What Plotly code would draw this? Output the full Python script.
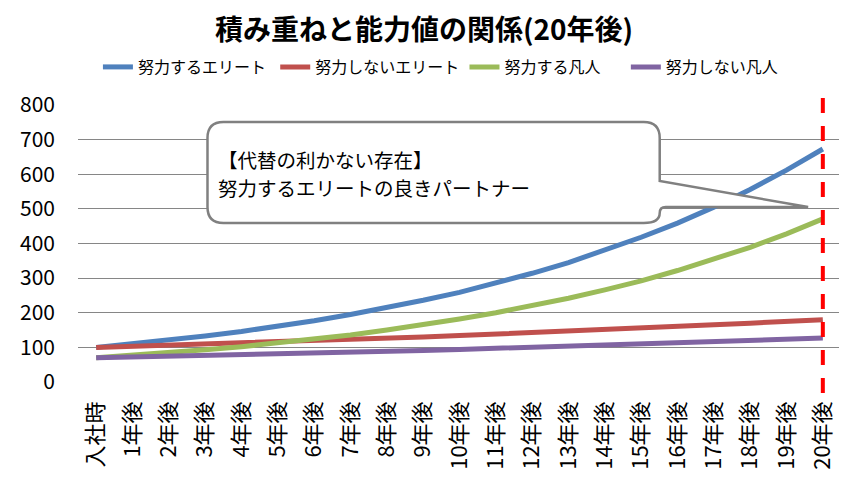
import plotly.graph_objects as go

categories = ["入社時"] + [f"{i}年後" for i in range(1, 21)]

elite_effort = [100, 110, 121, 133, 146, 161, 177, 195, 214, 236, 259, 285, 314, 345, 380, 418, 459, 505, 556, 612, 673]
elite_lazy = [100, 103, 106, 109, 113, 116, 119, 123, 127, 130, 134, 138, 143, 147, 151, 156, 160, 165, 170, 175, 180]
common_effort = [70, 77, 85, 93, 102, 113, 124, 136, 150, 165, 182, 200, 220, 242, 266, 292, 322, 354, 389, 428, 471]
common_lazy = [70, 72, 74, 76, 79, 81, 84, 86, 89, 91, 94, 97, 100, 103, 106, 109, 112, 116, 119, 122, 127]

series_names = ["努力するエリート", "努力しないエリート", "努力する凡人", "努力しない凡人"]
series_values = [elite_effort, elite_lazy, common_effort, common_lazy]
series_colors = ["#4F81BD", "#C0504D", "#9BBB59", "#8064A2"]

y_ticks = [0, 100, 200, 300, 400, 500, 600, 700, 800]
title_text = "積み重ねと能力値の関係(20年後)"
callout_lines = ["【代替の利かない存在】", "努力するエリートの良きパートナー"]
marker_category = "20年後"

FONT = "Noto Sans CJK JP"
W, H = 847, 484
OFF = 8  # page body margin offset
# target screen positions of plot area
SX0, SX1, SY0, SY1 = 75, 841, 105, 382
L = SX0 - OFF
T = SY0 - OFF
R = W - (SX1 - OFF)
B = H - (SY1 - OFF)
PW = W - L - R
PH = H - T - B


def px(x):
    return (x - SX0) / PW


def py(y):
    return (SY1 - y) / PH


legend_starts = [102, 280, 470, 632]
legend_keys = ["legend", "legend2", "legend3", "legend4"]

fig = go.Figure()
for name, vals, col, lk in zip(series_names, series_values, series_colors, legend_keys):
    fig.add_trace(go.Scatter(x=categories, y=vals, name=name, mode="lines", legend=lk,
                             line=dict(color=col, width=5)))

# red dashed vertical marker
fig.add_shape(type="line", xref="x", yref="paper",
              x0=categories.index(marker_category), x1=categories.index(marker_category),
              y0=py(98), y1=py(394),
              line=dict(color="#FF0000", width=4, dash="15px,13px"))

# callout box with pointer
x0, x1, y0, y1, r = 205, 659, 122, 223, 16
tipx, tipy = 808, 207
p_top, p_bot = 181, 207
pts = [
    ("M", x0 + r, y0),
    ("L", x1 - r, y0),
    ("Q", x1, y0, x1, y0 + r),
    ("L", x1, p_top),
    ("L", tipx, tipy),
    ("L", x1 + 6, p_bot),
    ("Q", x1, p_bot, x1, p_bot + 6),
    ("Q", x1, y1, x1 - r, y1),
    ("L", x0 + r, y1),
    ("Q", x0, y1, x0, y1 - r),
    ("L", x0, y0 + r),
    ("Q", x0, y0, x0 + r, y0),
]
path = ""
for p in pts:
    cmd = p[0]
    coords = p[1:]
    s = []
    for i in range(0, len(coords), 2):
        s.append(f"{px(coords[i]):.5f},{py(coords[i+1]):.5f}")
    path += cmd + " ".join(s) + " "
path += "Z"
fig.add_shape(type="path", xref="paper", yref="paper", path=path,
              fillcolor="white", line=dict(color="#808080", width=2.5), layer="above")

for line_text, ly in zip(callout_lines, [159, 187]):
    fig.add_annotation(xref="paper", yref="paper", x=px(214), y=py(ly), xanchor="left", yanchor="middle",
                       text=line_text, showarrow=False, align="left",
                       font=dict(family=FONT, size=19.5, color="black"))

legend_layouts = {}
for lk, xs in zip(legend_keys, legend_starts):
    legend_layouts[lk] = dict(orientation="h", x=px(xs - 7), y=py(67), xanchor="left", yanchor="middle",
                              font=dict(family=FONT, size=16, color="black"),
                              bgcolor="rgba(0,0,0,0)", itemwidth=30)

fig.update_layout(
    width=W, height=H,
    margin=dict(l=L, r=R, t=T, b=B),
    paper_bgcolor="white", plot_bgcolor="white",
    font=dict(family=FONT, color="black"),
    title=dict(text=f"<b>{title_text}</b>", x=(424 - OFF) / W, xref="container", xanchor="center",
               y=1 - (30 - OFF) / H, yanchor="middle", font=dict(family=FONT, size=28, color="black")),
    showlegend=True,
    **legend_layouts,
)
fig.update_xaxes(type="category", tickangle=-90, showgrid=False, showline=False, ticks="",
                 tickfont=dict(family=FONT, size=22, color="black"), zeroline=False,
                 ticklabelstandoff=14,
                 range=[-0.5, len(categories) - 0.5])
fig.update_yaxes(range=[0, 800], tickvals=y_ticks, showgrid=True, gridcolor="#868686", gridwidth=1,
                 zeroline=False, showline=False, ticks="", ticklabelstandoff=22,
                 tickfont=dict(family=FONT, size=21, color="black"))

fig.write_html("out.html")
